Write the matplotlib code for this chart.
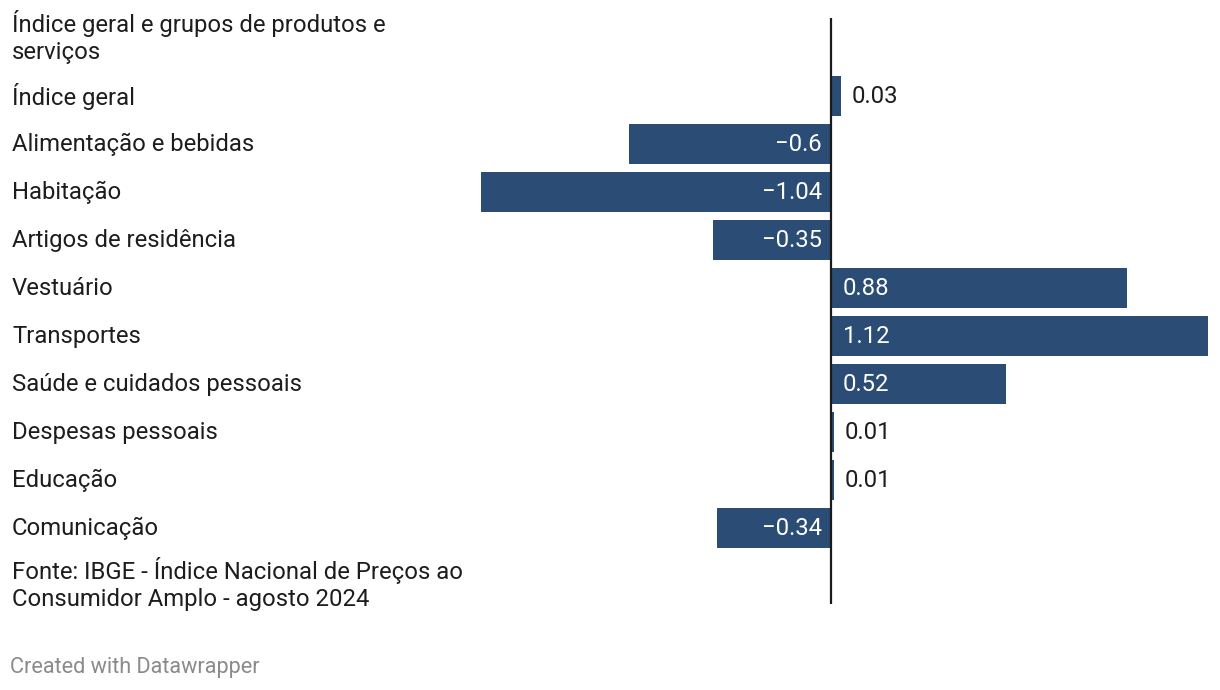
import matplotlib.pyplot as plt

# IPCA agosto 2024 - variacao mensal por grupo
grupos = [
    "Índice geral",
    "Alimentação e bebidas",
    "Habitação",
    "Artigos de residência",
    "Vestuário",
    "Transportes",
    "Saúde e cuidados pessoais",
    "Despesas pessoais",
    "Educação",
    "Comunicação",
]
variacao = [0.03, -0.6, -1.04, -0.35, 0.88, 1.12, 0.52, 0.01, 0.01, -0.34]

baslik = "Índice geral e grupos de produtos e\nserviços"
fonte = "Fonte: IBGE - Índice Nacional de Preços ao\nConsumidor Amplo - agosto 2024"

plt.rcParams["font.family"] = ["Roboto", "DejaVu Sans"]

W, H = 1220, 690
fs = 17.2
fig = plt.figure(figsize=(W / 100, H / 100), dpi=100)

# eksen piksel olarak: sifir cizgisi x=831, satir merkezleri 96 + 48*i
sol, sag = 481, 1208
ust, alt = 18, 604
ax = fig.add_axes([sol / W, 1 - alt / H, (sag - sol) / W, (alt - ust) / H])
ax.set_xlim(min(variacao), max(variacao))
ax.set_ylim(9 + (alt - 528) / 48, -(96 - ust) / 48)
ax.axis("off")

renk = "#2b4c74"
yazi = "#1d1d1d"
y = list(range(len(grupos)))
ax.barh(y, variacao, height=40 / 48, color=renk)
ax.axvline(0, color="#1a1a1a", linewidth=1.6)

# deger etiketleri: dar cubuklarda disarida, digerlerinde icerde beyaz
for i, v in enumerate(variacao):
    etiket = f"{v:g}".replace("-", "\u2212")
    if v < 0:
        ax.annotate(etiket, (0, i), xytext=(-9, 2), textcoords="offset pixels",
                    ha="right", va="center_baseline", color="white", fontsize=fs)
    elif v > 0.2:
        ax.annotate(etiket, (0, i), xytext=(12, 2), textcoords="offset pixels",
                    ha="left", va="center_baseline", color="white", fontsize=fs)
    else:
        ax.annotate(etiket, (v, i), xytext=(10, 2), textcoords="offset pixels",
                    ha="left", va="center_baseline", color=yazi, fontsize=fs)

# sol taraftaki kategori isimleri
for i, g in enumerate(grupos):
    fig.text(12 / W, 1 - (94 + 48 * i) / H, g, ha="left", va="center_baseline",
             fontsize=fs, color=yazi)

fig.text(12 / W, 1 - 37 / H, baslik, ha="left", va="center", fontsize=fs,
         color=yazi, linespacing=1.17)
fig.text(12 / W, 1 - 584 / H, fonte, ha="left", va="center", fontsize=fs,
         color=yazi, linespacing=1.17)
fig.text(10 / W, 1 - 665 / H, "Created with Datawrapper", ha="left",
         va="center_baseline", fontsize=15.6, color="#8a8a8a")

fig.savefig("out.png", dpi=100, facecolor="white")
